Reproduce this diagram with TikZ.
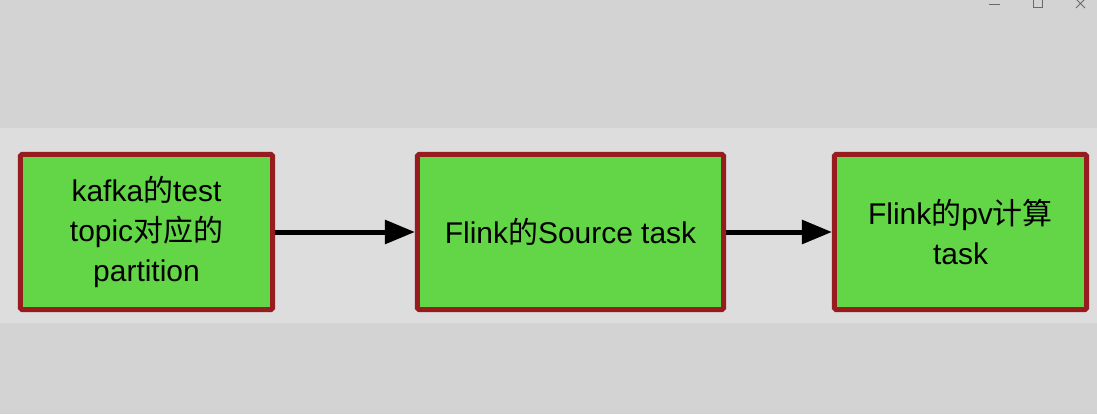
\documentclass[tikz,border=0pt]{standalone}
\usepackage{fontspec}
\setmainfont{Liberation Sans}
\newfontfamily\cjk{Noto Sans CJK SC}
\usetikzlibrary{arrows.meta,positioning}
\definecolor{wingray}{RGB}{211,211,211}
\definecolor{bandgray}{RGB}{221,221,221}
\definecolor{boxgreen}{RGB}{98,214,70}
\definecolor{boxred}{RGB}{150,28,32}
\definecolor{ctrlgray}{RGB}{105,105,105}
\tikzset{
  taskbox/.style={draw=boxred,fill=boxgreen,line width=0.125cm,rounded corners=1pt,
    minimum height=3.875cm,inner sep=0pt,align=center,
    font=\fontsize{21.3}{28.5}\selectfont},
  flow/.style={-{Triangle[length=0.75cm,width=0.58cm]},line width=0.125cm,black},
  winctl/.style={ctrlgray,line width=0.6pt},
}
\begin{document}
\begin{tikzpicture}[x=0.025cm,y=-0.025cm]
  \useasboundingbox (0,0) rectangle (1097,414);
  \fill[wingray] (0,0) rectangle (1097,414);
  \fill[bandgray] (0,128) rectangle (1097,323);
  % window controls
  \draw[winctl] (989,4) -- (1000,4);
  \draw[winctl] (1033,-1) rectangle (1042,7);
  \draw[winctl] (1076,-1) -- (1085,8) (1076,8) -- (1085,-1);
  % tasks
  \node[taskbox,minimum width=6.3cm] (kafka) at (146.5,232)
    {kafka{\cjk 的}test\\topic{\cjk 对应的}\\partition};
  \node[taskbox,minimum width=7.65cm] (source) at (570.5,232)
    {Flink{\cjk 的}Source task};
  \node[taskbox,minimum width=6.3cm] (pvcalc) at (960.5,232)
    {Flink{\cjk 的}pv{\cjk 计算}\\task};
  % connectors
  \draw[flow] (kafka) -- (source);
  \draw[flow] (source) -- (pvcalc);
\end{tikzpicture}
\end{document}
